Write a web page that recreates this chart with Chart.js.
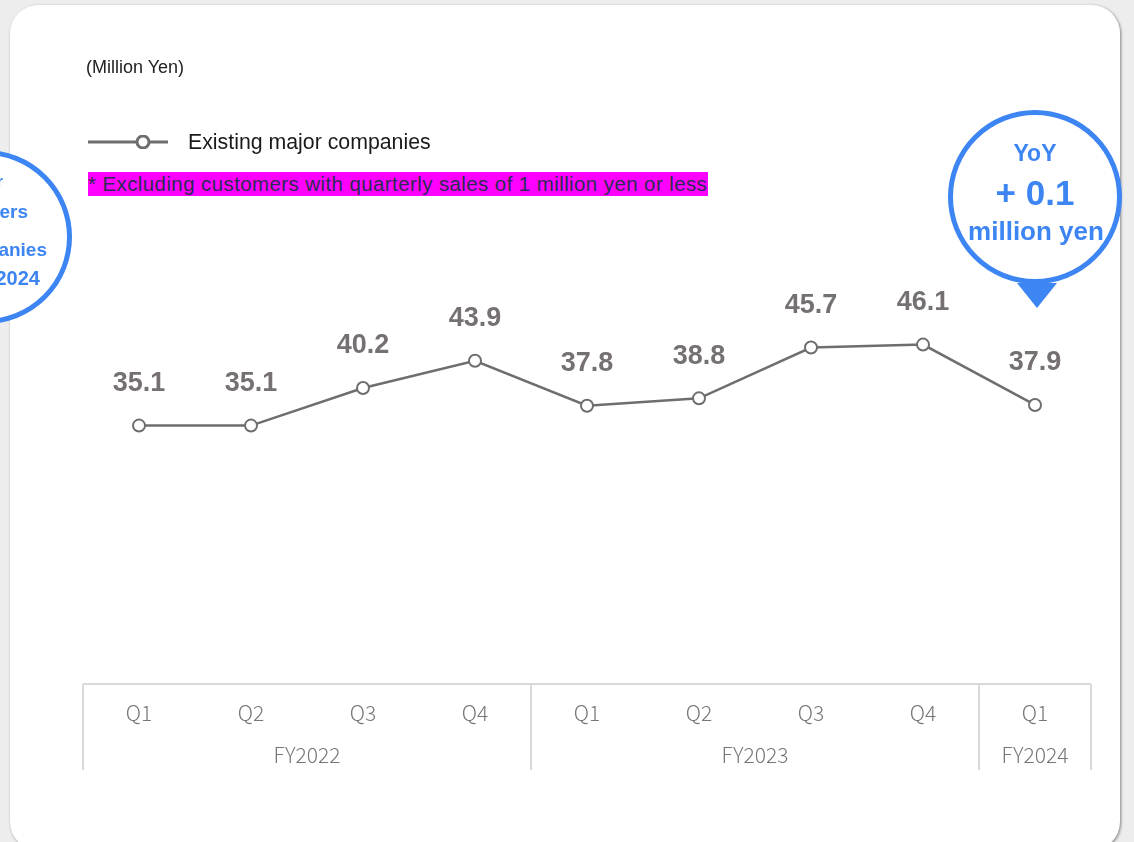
<!DOCTYPE html>
<html>
<head>
<meta charset="utf-8">
<script src="https://cdn.jsdelivr.net/npm/chart.js@4.4.0/dist/chart.umd.min.js"></script>
<style>
    html, body { margin: 0; padding: 0; width: 1134px; height: 842px; overflow: hidden; background: #ededed;
        font-family: "Liberation Sans", Arial, sans-serif; }
    #card { position: absolute; left: 10px; top: 5px; width: 1110px; height: 845px; background: #fff;
        border-radius: 28px; box-shadow: 1px 1px 3px rgba(0, 0, 0, 0.45); }
    #chart { position: absolute; left: 0; top: 0; }
    .unit { position: absolute; left: 86px; top: 57px; font-size: 18px; color: #222; }
    .legend { position: absolute; left: 88px; top: 129px; height: 26px; display: flex; align-items: center;
        font-size: 21.3px; color: #1a1a1a; }
    .legend svg { margin-right: 20px; }
    .note { position: absolute; left: 88px; top: 172px; height: 24px; line-height: 24px; width: 620px;
        background: #ff00ff; color: #2d2b55; font-size: 20.5px; letter-spacing: 0.4px; white-space: nowrap;
        overflow: hidden; }
    .bubble { position: absolute; width: 164px; height: 164px; border: 5px solid #3d85f2; border-radius: 50%;
        background: #fff; }
    .btxt { position: absolute; color: #3d85f2; font-weight: bold; white-space: nowrap; line-height: 1; }
    .pin { position: absolute; left: 1017px; top: 283px; width: 0; height: 0; border-left: 20px solid transparent;
        border-right: 20px solid transparent; border-top: 25px solid #3d85f2; }
</style>
</head>
<body>
<div id="card"></div>
<canvas id="chart" width="1134" height="842"></canvas>

<div class="unit">(Million Yen)</div>
<div class="legend">
    <svg width="80" height="14" viewBox="0 0 80 14">
        <line x1="0" y1="7" x2="80" y2="7" stroke="#6e6e6e" stroke-width="3"></line>
        <circle cx="55" cy="7" r="6" fill="#fff" stroke="#6e6e6e" stroke-width="3"></circle>
    </svg>
    <span>Existing major companies</span>
</div>
<div class="note">* Excluding customers with quarterly sales of 1 million yen or less</div>

<!-- left bubble, mostly off the page -->
<div class="bubble" style="left:-102px; top:150px;"></div>
<div class="btxt" style="left:-300px; width:303px; text-align:right; top:174px; font-size:16px;">Sales per</div>
<div class="btxt" style="left:-300px; width:328px; text-align:right; top:202px; font-size:19px;">customers</div>
<div class="btxt" style="left:-300px; width:347px; text-align:right; top:240px; font-size:19px;">companies</div>
<div class="btxt" style="left:-300px; width:340px; text-align:right; top:268px; font-size:20px;">Q1 FY2024</div>

<!-- right bubble -->
<div class="pin"></div>
<div class="bubble" style="left:948px; top:110px;"></div>
<div class="btxt" style="left:948px; width:174px; text-align:center; top:142px; font-size:23px;">YoY</div>
<div class="btxt" style="left:948px; width:174px; text-align:center; top:175px; font-size:35px;">+ 0.1</div>
<div class="btxt" style="left:948px; width:176px; text-align:center; top:218px; font-size:26px;">million yen</div>

<script>
    // quarterly sales per existing major company (million yen)
    const quarters = ['Q1', 'Q2', 'Q3', 'Q4', 'Q1', 'Q2', 'Q3', 'Q4', 'Q1'];
    const fiscal_years = ['FY2022', 'FY2022', 'FY2022', 'FY2022', 'FY2023', 'FY2023', 'FY2023', 'FY2023', 'FY2024'];
    const sales_values = [35.1, 35.1, 40.2, 43.9, 37.8, 38.8, 45.7, 46.1, 37.9];

    const line_color = '#6e6e6e';
    const frame_color = '#d9d9d9';

    // value labels above each point
    const value_label_plugin = {
        id: 'value_labels',
        afterDatasetsDraw: (chart) => {
            const ctx = chart.ctx;
            const meta = chart.getDatasetMeta(0);
            ctx.save();
            ctx.font = 'bold 27px "Liberation Sans", Arial, sans-serif';
            ctx.fillStyle = '#767171';
            ctx.textAlign = 'center';
            ctx.textBaseline = 'middle';
            meta.data.forEach((pt, i) => {
                ctx.fillText(sales_values[i].toFixed(1), pt.x, pt.y - 42);
            });
            ctx.restore();
        }
    };

    // table-like frame under the plot with fiscal year groups
    const year_frame_plugin = {
        id: 'year_frame',
        afterDraw: (chart) => {
            const ctx = chart.ctx;
            const x_scale = chart.scales.x;
            const area = chart.chartArea;
            const half = (x_scale.getPixelForValue(1) - x_scale.getPixelForValue(0)) / 2;
            const bottom = area.bottom + 86;
            ctx.save();
            ctx.strokeStyle = frame_color;
            ctx.lineWidth = 2;
            ctx.beginPath();
            ctx.moveTo(area.left, area.bottom);
            ctx.lineTo(area.right, area.bottom);
            ctx.stroke();

            let start = 0;
            let bounds = [area.left];
            ctx.font = '300 21px "Noto Sans CJK JP", "Noto Sans", sans-serif';
            ctx.fillStyle = '#767676';
            ctx.textAlign = 'center';
            ctx.textBaseline = 'middle';
            for (let i = 1; i <= fiscal_years.length; i++) {
                if (i === fiscal_years.length || fiscal_years[i] !== fiscal_years[start]) {
                    const x0 = x_scale.getPixelForValue(start) - half;
                    const x1 = x_scale.getPixelForValue(i - 1) + half;
                    ctx.fillText(fiscal_years[start], (x0 + x1) / 2, area.bottom + 71);
                    bounds.push(x1);
                    start = i;
                }
            }
            bounds.forEach(x => {
                ctx.beginPath();
                ctx.moveTo(x, area.bottom);
                ctx.lineTo(x, bottom);
                ctx.stroke();
            });
            ctx.restore();
        }
    };

    const config = {
        type: 'line',
        data: {
            labels: quarters,
            datasets: [{
                label: 'Existing major companies',
                data: sales_values,
                borderColor: line_color,
                borderWidth: 2.5,
                pointRadius: 6,
                pointBorderWidth: 2,
                pointBackgroundColor: '#fff',
                pointBorderColor: line_color,
                tension: 0
            }]
        },
        options: {
            responsive: false,
            animation: false,
            devicePixelRatio: 1,
            layout: {
                padding: {top: 95, left: 83, right: 43, bottom: 0}
            },
            plugins: {
                legend: {display: false},
                tooltip: {enabled: false},
                title: {display: false}
            },
            scales: {
                x: {
                    offset: true,
                    grid: {display: false, drawTicks: false},
                    border: {display: false},
                    ticks: {
                        padding: 16,
                        color: '#767676',
                        font: {family: '"Noto Sans CJK JP", "Noto Sans", sans-serif', size: 21, weight: 300}
                    },
                    afterFit: (scale) => {
                        scale.height = 842 - 684;
                    }
                },
                y: {
                    display: false,
                    min: 0,
                    max: 80
                }
            }
        },
        plugins: [value_label_plugin, year_frame_plugin]
    };

    new Chart(document.getElementById('chart').getContext('2d'), config);
</script>
</body>
</html>
